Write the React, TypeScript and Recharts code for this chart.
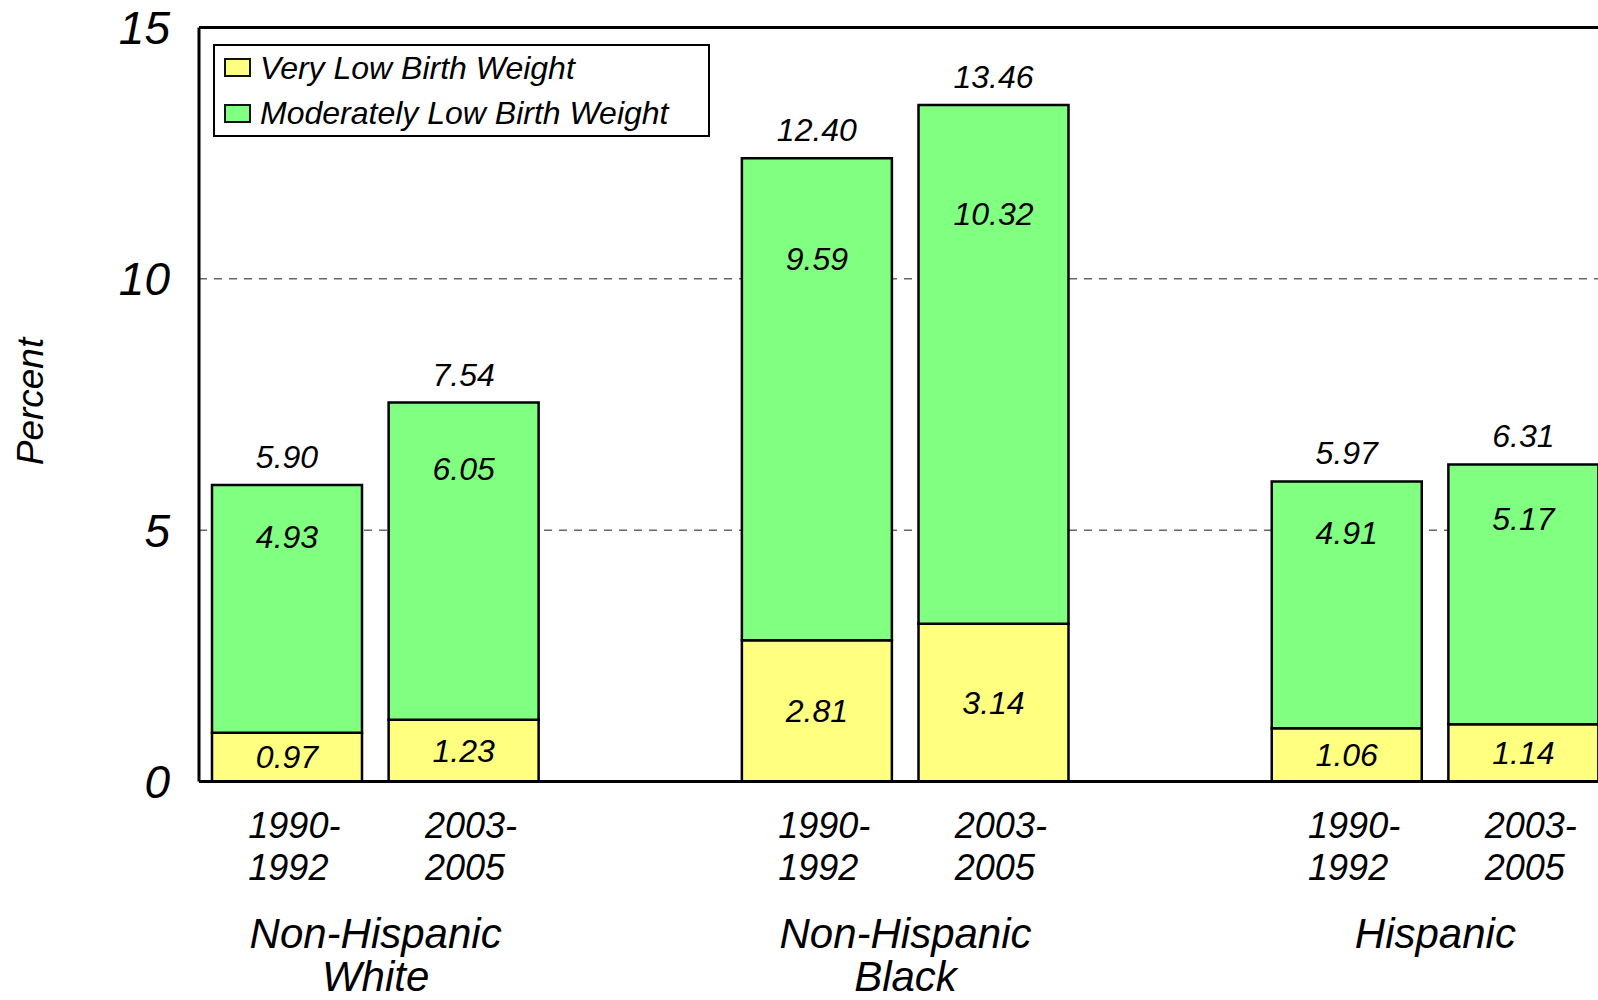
import { Bar, BarChart, CartesianGrid, Label, LabelList, Legend, ReferenceLine, XAxis, YAxis } from "recharts";

const FONT = '"Liberation Sans", Arial, Helvetica, sans-serif';

const groupNames = ["Non-Hispanic White", "Non-Hispanic Black", "Hispanic"];
const groupLines = [["Non-Hispanic", "White"], ["Non-Hispanic", "Black"], ["Hispanic"]];
const periodLines = [["1990-", "1992"], ["2003-", "2005"]];
const seriesNames = ["Very Low Birth Weight", "Moderately Low Birth Weight"];

// one value per bar: group by group, 1990-1992 then 2003-2005
const veryLow = [0.97, 1.23, 2.81, 3.14, 1.06, 1.14];
const moderatelyLow = [4.93, 6.05, 9.59, 10.32, 4.91, 5.17];
const totals = [5.9, 7.54, 12.4, 13.46, 5.97, 6.31];

const yTicks = [0, 5, 10, 15];

const CHART_W = 1640;
const CHART_H = 1000;
const Y_W = 199;
const RIGHT = 28;

type Row = {
  key: string;
  group?: number;
  period?: number;
  vlbw: number | null;
  mlbw: number | null;
  mlbwLabel: number | null;
  total: number | null;
};

const rows: Row[] = [];
groupNames.forEach((g, gi) => {
  if (gi > 0) {
    rows.push({ key: `gap-${gi}`, vlbw: null, mlbw: null, mlbwLabel: null, total: null });
  }
  periodLines.forEach((_, pi) => {
    const i = gi * 2 + pi;
    rows.push({
      key: `${g} ${pi}`,
      group: gi,
      period: pi,
      vlbw: veryLow[i],
      // bar top follows the printed total
      mlbw: +(totals[i] - veryLow[i]).toFixed(2),
      mlbwLabel: moderatelyLow[i],
      total: totals[i],
    });
  });
});

const SLOT = (CHART_W - Y_W - RIGHT) / rows.length;

const textStyle = { fontFamily: FONT, fontStyle: "italic" as const, fill: "#000" };

function XTick({ x, y, payload }: any) {
  const row = rows.find((r) => r.key === payload.value);
  if (!row || row.period === undefined || row.group === undefined) return null;
  const lines = periodLines[row.period];
  const glines = groupLines[row.group];
  return (
    <g>
      <text x={x - 39} y={y + 56.5} fontSize={36} {...textStyle}>{lines[0]}</text>
      <text x={x - 39} y={y + 98.5} fontSize={36} {...textStyle}>{lines[1]}</text>
      {row.period === 0 &&
        glines.map((t, i) => (
          <text key={t} x={x + SLOT / 2} y={y + 166 + i * 43} fontSize={42} textAnchor="middle" {...textStyle}>
            {t}
          </text>
        ))}
    </g>
  );
}

function PercentLabel({ viewBox }: any) {
  const cy = viewBox.y + viewBox.height / 2 - 3;
  return (
    <text transform={`translate(43, ${cy}) rotate(-90)`} textAnchor="middle" fontSize={37} {...textStyle}>
      Percent
    </text>
  );
}

function centerLabel({ x, y, width, height, value }: any) {
  if (value == null) return null;
  return (
    <text x={x + width / 2} y={y + height / 2} dy={11} textAnchor="middle" fontSize={32} {...textStyle}>
      {Number(value).toFixed(2)}
    </text>
  );
}

function innerLabel({ x, y, width, height, value }: any) {
  if (value == null) return null;
  return (
    <text x={x + width / 2} y={y + height * 0.21} dy={11} textAnchor="middle" fontSize={32} {...textStyle}>
      {Number(value).toFixed(2)}
    </text>
  );
}

function totalLabel({ x, y, width, value }: any) {
  if (value == null) return null;
  return (
    <text x={x + width / 2} y={y - 17} textAnchor="middle" fontSize={32} {...textStyle}>
      {Number(value).toFixed(2)}
    </text>
  );
}

function LegendBox({ payload }: any) {
  const items = [...(payload || [])].sort(
    (a: any, b: any) => seriesNames.indexOf(a.value) - seriesNames.indexOf(b.value)
  );
  return (
    <div
      style={{
        boxSizing: "border-box",
        width: 497,
        height: 93,
        border: "2px solid #000",
        background: "#fff",
        fontFamily: FONT,
        fontStyle: "italic",
        fontSize: 32,
        lineHeight: 1,
        display: "flex",
        flexDirection: "column",
        gap: 2,
      }}
    >
      {items.map((p: any) => (
        <div key={p.value} style={{ display: "flex", alignItems: "center", height: 44 }}>
          <span
            style={{
              boxSizing: "border-box",
              width: 27,
              height: 19,
              marginLeft: 9,
              marginRight: 9,
              border: "2px solid #111",
              background: p.color,
            }}
          />
          <span>{p.value}</span>
        </div>
      ))}
    </div>
  );
}

export default function App() {
  return (
    <div
      style={{
        position: "absolute",
        left: 0,
        top: 0,
        width: 1598,
        height: 1000,
        overflow: "hidden",
        background: "#fff",
      }}
    >
      <BarChart
        width={CHART_W}
        height={CHART_H}
        data={rows}
        margin={{ top: 27.5, right: RIGHT, bottom: 0, left: 0 }}
        barCategoryGap={0}
      >
        <CartesianGrid vertical={false} stroke="#666" strokeDasharray="8 7" strokeWidth={1.5} />
        <XAxis
          dataKey="key"
          interval={0}
          height={218.4}
          tickSize={0}
          tickMargin={0}
          tickLine={false}
          axisLine={{ stroke: "#000", strokeWidth: 3 }}
          tick={<XTick />}
        />
        <YAxis
          domain={[0, 15]}
          ticks={yTicks}
          interval={0}
          width={Y_W}
          tickSize={0}
          tickMargin={29}
          tickLine={false}
          axisLine={{ stroke: "#000", strokeWidth: 3 }}
          tick={{ fontSize: 46, fontFamily: FONT, fontStyle: "italic", fill: "#000" }}
        >
          <Label content={<PercentLabel />} />
        </YAxis>
        <ReferenceLine y={15} stroke="#000" strokeWidth={3} />
        <Legend
          layout="horizontal"
          verticalAlign="middle"
          align="center"
          wrapperStyle={{ left: 213, top: 44, width: 497, height: 93 }}
          content={<LegendBox />}
        />
        <Bar
          dataKey="vlbw"
          name={seriesNames[0]}
          stackId="lbw"
          fill="#ffff80"
          stroke="#000"
          strokeWidth={2.5}
          barSize={150}
          isAnimationActive={false}
        >
          <LabelList dataKey="vlbw" content={centerLabel} />
        </Bar>
        <Bar
          dataKey="mlbw"
          name={seriesNames[1]}
          stackId="lbw"
          fill="#80ff80"
          stroke="#000"
          strokeWidth={2.5}
          barSize={150}
          isAnimationActive={false}
        >
          <LabelList dataKey="mlbwLabel" content={innerLabel} />
          <LabelList dataKey="total" content={totalLabel} />
        </Bar>
      </BarChart>
    </div>
  );
}
